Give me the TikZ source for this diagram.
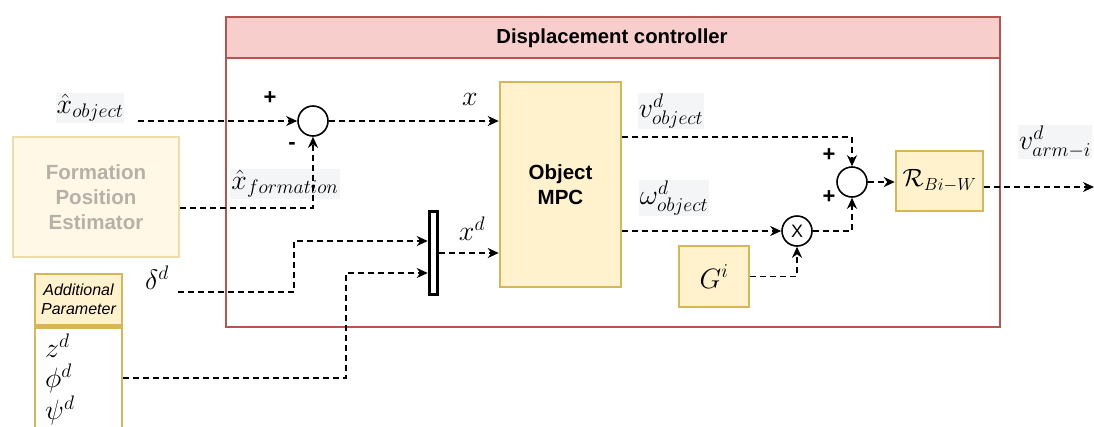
\RequirePackage{fix-cm}
\documentclass[tikz,border=0pt]{standalone}
\usepackage{fontspec}
\setsansfont{Liberation Sans}
\usetikzlibrary{arrows.meta,calc}
\definecolor{hdrfill}{HTML}{F8CECC}
\definecolor{hdrline}{HTML}{B85450}
\definecolor{yfill}{HTML}{FFF2CC}
\definecolor{yline}{HTML}{D6B656}
\definecolor{lblbg}{HTML}{F4F5F7}
\definecolor{fadetext}{HTML}{B5B1A7}
\definecolor{fadefill}{HTML}{FFF8E6}
\definecolor{fadeline}{HTML}{EEDDAA}
\begin{document}
\begin{tikzpicture}[x=1pt,y=-1pt,
  sig/.style={line width=1.6pt, dash pattern=on 6pt off 4pt,
    -{Stealth[length=11pt,width=10pt,inset=3.5pt]}},
  sumnode/.style={circle, draw, line width=1.6pt, minimum size=30pt, inner sep=0pt, fill=white},
  block/.style={draw=yline, fill=yfill, line width=2.5pt, inner sep=0pt},
  mlbl/.style={fill=lblbg, inner sep=1pt, font=\fontsize{28}{32}\selectfont},
  plain/.style={inner sep=1pt, font=\fontsize{28}{32}\selectfont},
  sgn/.style={font=\sffamily\bfseries\fontsize{22}{22}\selectfont, inner sep=0pt},
  btxt/.style={font=\sffamily\bfseries\fontsize{20.5}{25}\selectfont, align=center}
]
\useasboundingbox (0,0) rectangle (1094,426);

% controller frame with its title bar
\filldraw[fill=white, draw=hdrline, line width=1.3pt] (226,17) rectangle (1000,327);
\filldraw[fill=hdrfill, draw=hdrline, line width=1.3pt] (226,17) rectangle (1000,58);
\node[font=\sffamily\bfseries\fontsize{20.3}{22}\selectfont] (title) at (612,38) {Displacement controller};

% blocks
\node[block, minimum width=121pt, minimum height=205pt, btxt] (mpc) at (560.5,184.5) {Object\\MPC};
\node[block, minimum width=70pt, minimum height=61pt] (g) at (714,276.5) {\fontsize{28}{32}\selectfont$G^i$};
\node[block, minimum width=87pt, minimum height=60pt] (r) at (939.5,181) {\fontsize{25}{30}\selectfont$\mathcal{R}_{Bi-W}$};
\node[draw=fadeline, fill=fadefill, line width=2.5pt, minimum width=166pt, minimum height=120pt,
      text=fadetext, btxt] (fpe) at (96,197) {Formation\\Position\\Estimator};

% multiplexer bar
\node[draw, fill=white, line width=3.5pt, minimum width=8pt, minimum height=83pt, inner sep=0pt] (bar) at (433.5,253) {};

% summing and product junctions
\node[sumnode] (s1) at (313,121) {};
\node[sumnode] (s2) at (852,182) {};
\node[sumnode, font=\sffamily\fontsize{18}{18}\selectfont] (mul) at (797,231) {X};

% signs
\node[sgn] (p1) at (270,98) {+};
\node[sgn] (m1) at (292,146) {-};
\node[sgn] (p2) at (829,155) {+};
\node[sgn] (p3) at (829,197) {+};

% additional parameter table
\node[draw=yline, fill=yfill, line width=2.5pt, minimum width=87pt, minimum height=51pt, inner sep=0pt,
      align=center, font=\sffamily\itshape\fontsize{16}{19}\selectfont] (aphead) at (78.5,299.5) {Additional\\Parameter};
\node[draw=yline, fill=white, line width=2.5pt, minimum width=87pt, minimum height=120pt, inner sep=0pt,
      anchor=north] (apbody) at (aphead.south) {};
\node[plain, anchor=west] (zd) at (44,346) {$z^d$};
\node[plain, anchor=west] (phid) at (44,378) {$\phi^d$};
\node[plain, anchor=west] (psid) at (44,410) {$\psi^d$};

% signal labels
\node[mlbl] (lxo) at (90,108) {$\hat{x}_{object}$};
\node[mlbl] (lxf) at (285,184) {$\hat{x}_{formation}$};
\node[plain] (lx) at (470,99) {$x$};
\node[plain] (lxd) at (472,229) {$x^d$};
\node[plain] (ldelta) at (157,278) {$\delta^d$};
\node[mlbl] (lv) at (671,111) {$v^d_{object}$};
\node[mlbl] (lw) at (674,198) {$\omega^d_{object}$};
\node[mlbl, anchor=west] (lva) at (1018,142) {$v^d_{arm-i}$};

% free ends of the incoming signals
\coordinate (xoin) at (138,121);
\coordinate (din) at (178,292);
\coordinate (out) at (1094,187);

% connectors
\draw[sig] (xoin) -- (s1.west);
\draw[sig] ([yshift=-11pt]fpe.east) -| (s1.south);
\draw[sig] (s1.east) -- (mpc.west |- s1.east);
\draw[sig] (din) -- ++(116,0) |- ([yshift=12pt]bar.west);
\draw[sig] (apbody.east |- phid) -- ++(223,0) |- ([yshift=-20pt]bar.west);
\draw[sig] (bar.east) -- (mpc.west |- bar.east);
\draw[sig] ([yshift=47.5pt]mpc.east) -| (s2.north);
\draw[sig] (mpc.east |- mul.west) -- (mul.west);
\draw[sig] (mul.east) -| (s2.south);
\draw[sig] (g.east) -| (mul.south);
\draw[sig] (s2.east) -- (r.west |- s2.east);
\draw[sig] (r.east |- out) -- (out);
\end{tikzpicture}
\end{document}
